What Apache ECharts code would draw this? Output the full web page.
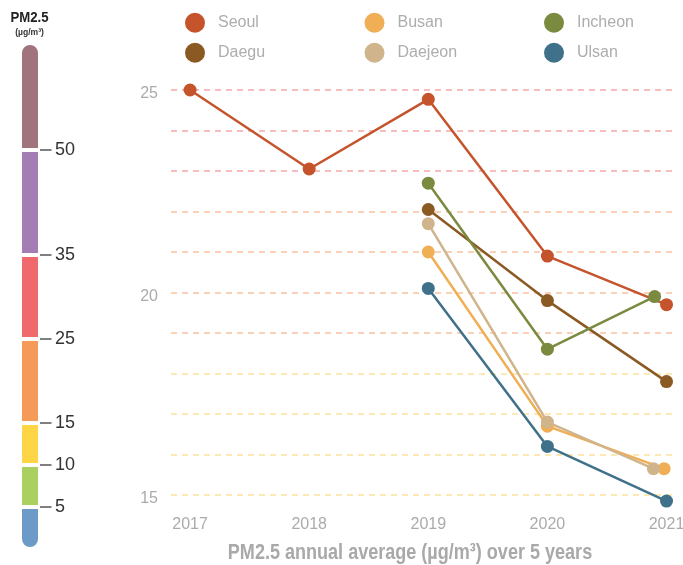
<!DOCTYPE html>
<html>
<head>
<meta charset="utf-8">
<script src="https://cdn.jsdelivr.net/npm/echarts@6/dist/echarts.min.js"></script>
<style>
html,body{margin:0;padding:0;background:#fff;}
#chart{width:683px;height:565px;}
</style>
</head>
<body>
<div id="chart"></div>
<script>
// ---- data ----
const cities = ['Seoul', 'Daegu', 'Busan', 'Daejeon', 'Incheon', 'Ulsan'];
const yearTicks = [2017, 2018, 2019, 2020, 2021];
const seoulYears = [2017, 2018, 2019, 2020, 2021];
const seoul = [25.0, 23.05, 24.77, 20.9, 19.7];
const daeguYears = [2019, 2020, 2021];
const daegu = [22.05, 19.8, 17.8];
const busanYears = [2019, 2020, 2020.98];
const busan = [21.0, 16.7, 15.65];
const daejeonYears = [2019, 2020, 2020.89];
const daejeon = [21.7, 16.8, 15.65];
const incheonYears = [2019, 2020, 2020.9];
const incheon = [22.7, 18.6, 19.9];
const ulsanYears = [2019, 2020, 2021];
const ulsan = [20.1, 16.2, 14.85];
const valueTicks = [15, 20, 25];
const gridValues = [15, 16, 17, 18, 19, 20, 21, 22, 23, 24, 25];
const pmBandEdges = [0, 5, 10, 15, 25, 35, 50];
const pmTicksLow = [5, 10, 15, 25];
const pmTicksHigh = [35, 50];
const titleText = 'PM2.5 annual average (µg/m³) over 5 years';

// ---- styles ----
const cityColors = {
  Seoul: '#c5532c', Daegu: '#8b5a23', Busan: '#f0ae55',
  Daejeon: '#cfb48c', Incheon: '#7a8a3e', Ulsan: '#3f718a'
};
const bandColors = ['#6b9bc6', '#abd062', '#fdd547', '#f59a58', '#f0696d', '#a47db5', '#a0737d'];
const FONT = "'Liberation Sans', Arial, Helvetica, sans-serif";
function gridColor(v) {
  if (v >= 23) return '#f5a6a6';
  if (v >= 19) return '#f9c29e';
  return '#fde29c';
}

const cityData = {
  Seoul: [seoulYears, seoul], Daegu: [daeguYears, daegu], Busan: [busanYears, busan],
  Daejeon: [daejeonYears, daejeon], Incheon: [incheonYears, incheon], Ulsan: [ulsanYears, ulsan]
};

const chart = echarts.init(document.getElementById('chart'), null, {renderer: 'canvas'});

// colour bar: band widths, top band open to the axis max
const barTop = 65.3;
const bandWidths = pmBandEdges.map((e, i) => (i < pmBandEdges.length - 1 ? pmBandEdges[i + 1] : barTop) - e);

const series = [];
// dummy series carrying the dashed gridlines
series.push({
  type: 'line', xAxisIndex: 0, yAxisIndex: 0, data: [], silent: true,
  itemStyle: {color: '#f5a6a6'},
  markLine: {
    silent: true, z: 1, symbol: ['none', 'none'], label: {show: false},
    emphasis: {disabled: true},
    lineStyle: {type: [6, 5], width: 1.5, color: '#f5a6a6', opacity: 1},
    data: gridValues.map(v => ({yAxis: v, lineStyle: {color: gridColor(v), type: [6, 5], width: 1.5, opacity: 1}}))
  }
});
cities.forEach(c => {
  const [xs, ys] = cityData[c];
  series.push({
    name: c, type: 'line', xAxisIndex: 0, yAxisIndex: 0, z: 3,
    clip: false, symbol: 'circle', symbolSize: 13,
    lineStyle: {width: 2.5, color: cityColors[c]},
    itemStyle: {color: cityColors[c]},
    emphasis: {disabled: true},
    data: xs.map((x, i) => [x, ys[i]])
  });
});
[1, 2].forEach(g => {
  bandWidths.forEach((w, i) => {
    let radius = 0;
    if (i === 0) radius = [0, 0, 10, 10];
    if (i === bandWidths.length - 1) radius = [10, 10, 0, 0];
    series.push({
      type: 'bar', xAxisIndex: g, yAxisIndex: g, stack: 'pm' + g, barWidth: 20,
      silent: true, clip: true,
      itemStyle: {color: bandColors[i], borderColor: '#ffffff', borderWidth: 2, borderRadius: radius},
      data: [w]
    });
  });
});

const legends = cities.map((c, i) => ({
  data: [c],
  left: 185 + Math.floor(i / 2) * 179.5,
  top: 12.7 + (i % 2) * 30,
  icon: 'circle', itemWidth: 36, itemHeight: 20, itemGap: 0,
  padding: 0,
  selectedMode: false,
  textStyle: {color: '#adadad', fontSize: 16, fontFamily: FONT}
}));

const option = {
  animation: false,
  backgroundColor: '#ffffff',
  textStyle: {fontFamily: FONT},
  legend: legends,
  grid: [
    {left: 171, right: 11, top: 90, bottom: 53.8, containLabel: false, outerBoundsMode: 'none'},
    {left: 20, width: 20, top: 255, height: 294, containLabel: false, outerBoundsMode: 'none'},
    {left: 20, width: 20, top: 43, height: 212, containLabel: false, outerBoundsMode: 'none'}
  ],
  xAxis: [
    {
      type: 'value', gridIndex: 0, min: 2016.84, max: 2021.046,
      axisLine: {show: false}, axisTick: {show: false}, splitLine: {show: false},
      axisLabel: {
        customValues: yearTicks, formatter: v => String(v),
        color: '#ababab', fontSize: 16, margin: 5, fontFamily: FONT,
        showMinLabel: true, showMaxLabel: true, hideOverlap: false
      }
    },
    {type: 'category', gridIndex: 1, data: ['PM2.5'], show: false},
    {type: 'category', gridIndex: 2, data: ['PM2.5'], show: false}
  ],
  yAxis: [
    {
      type: 'value', gridIndex: 0, min: 14.6, max: 25,
      axisLine: {show: false}, axisTick: {show: false}, splitLine: {show: false},
      axisLabel: {
        customValues: valueTicks, formatter: v => '{v|' + v + '}',
        color: '#ababab', fontSize: 16, margin: 13, fontFamily: FONT,
        rich: {v: {color: '#ababab', fontSize: 16, fontFamily: FONT, padding: [8, 0, 0, 0], backgroundColor: 'rgba(255,255,255,0)'}}
      }
    },
    {
      type: 'value', gridIndex: 1, min: 0, max: 35, position: 'right',
      axisLine: {show: false}, splitLine: {show: false},
      axisTick: {show: true, customValues: pmTicksLow, length: 11.5, lineStyle: {color: '#555', width: 1.5}},
      axisLabel: {customValues: pmTicksLow, formatter: v => String(v), margin: 15, fontSize: 18, color: '#333', fontFamily: FONT}
    },
    {
      type: 'value', gridIndex: 2, min: 35, max: barTop, position: 'right',
      axisLine: {show: false}, splitLine: {show: false},
      axisTick: {show: true, customValues: pmTicksHigh, length: 11.5, lineStyle: {color: '#555', width: 1.5}},
      axisLabel: {customValues: pmTicksHigh, formatter: v => String(v), margin: 15, fontSize: 18, color: '#333', fontFamily: FONT,
                  showMinLabel: true, showMaxLabel: true}
    }
  ],
  graphic: [
    {type: 'text', x: 29.5, y: 18.3, scaleX: 0.88, silent: true,
     style: {text: 'PM2.5', font: 'bold 15px ' + FONT, fill: '#222', align: 'center', verticalAlign: 'middle'}},
    {type: 'text', x: 29.5, y: 32.8, scaleX: 0.9, silent: true,
     style: {text: '(µg/m³)', font: 'bold 9.5px ' + FONT, fill: '#333', align: 'center', verticalAlign: 'middle'}},
    {type: 'text', x: 410, y: 553, scaleX: 0.82, silent: true,
     style: {text: titleText, font: 'bold 22px ' + FONT, fill: '#a9a9a9', align: 'center', verticalAlign: 'middle'}}
  ],
  series: series
};
chart.setOption(option);
</script>
</body>
</html>
